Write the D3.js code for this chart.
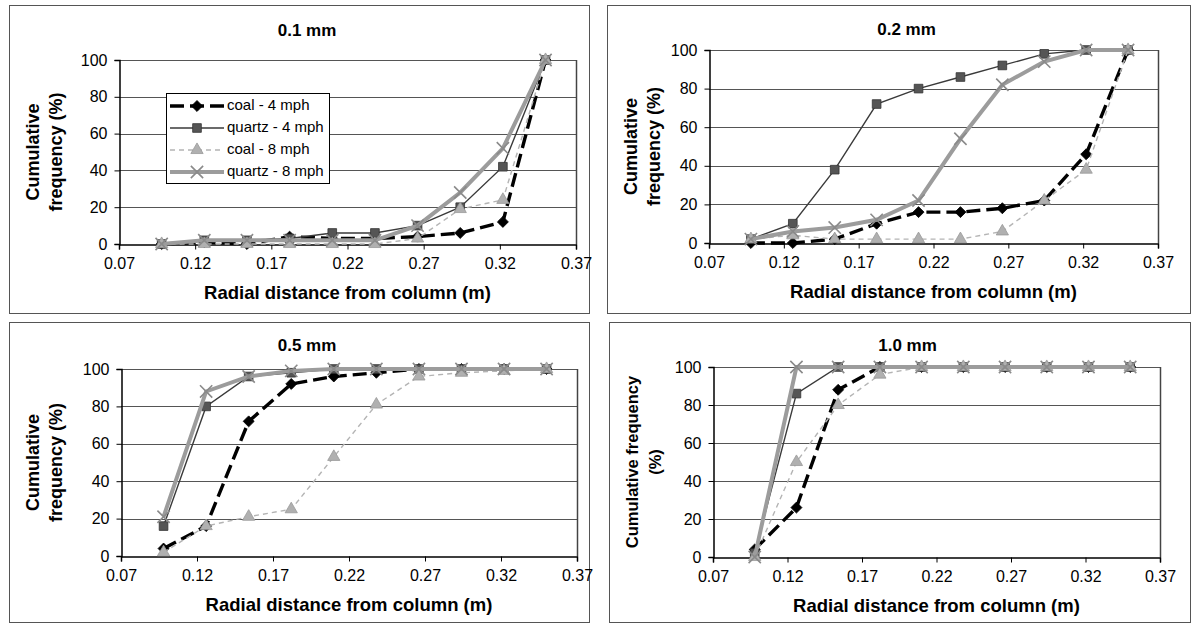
<!DOCTYPE html>
<html>
<head>
<meta charset="utf-8">
<script src="https://cdn.jsdelivr.net/npm/d3@7"></script>
<style>
  body { margin: 0; background: #fff; }
  svg text { font-family: "Liberation Sans", Arial, sans-serif; fill: #000; }
</style>
</head>
<body>
<svg id="chart" width="1192" height="627"></svg>
<script>
// radial positions (m) shared by every panel
const distances = [0.098, 0.126, 0.154, 0.182, 0.210, 0.238, 0.266, 0.294, 0.322, 0.350];
const xTicks = [0.07, 0.12, 0.17, 0.22, 0.27, 0.32, 0.37];
const yTicks = [0, 20, 40, 60, 80, 100];
const seriesNames = ["coal - 4 mph", "quartz - 4 mph", "coal - 8 mph", "quartz - 8 mph"];
const panelTitles = ["0.1 mm", "0.2 mm", "0.5 mm", "1.0 mm"];

// 0.1 mm
const coal4_01   = [0, 1, 0, 4, 3, 3, 4, 6, 12, 100];
const quartz4_01 = [0, 2, 2, 3, 6, 6, 10, 20, 42, 100];
const coal8_01   = [0, 0, 0, 0, 0, 0, 3, 19, 24, 100];
const quartz8_01 = [0, 2, 2, 2, 2, 2, 10, 28, 52, 100];
// 0.2 mm
const coal4_02   = [0, 0, 2, 10, 16, 16, 18, 22, 46, 100];
const quartz4_02 = [2, 10, 38, 72, 80, 86, 92, 98, 100, 100];
const coal8_02   = [2, 4, 2, 2, 2, 2, 6, 22, 38, 100];
const quartz8_02 = [2, 6, 8, 12, 22, 54, 82, 94, 100, 100];
// 0.5 mm
const coal4_05   = [4, 16, 72, 92, 96, 98, 100, 100, 100, 100];
const quartz4_05 = [16, 80, 96, 98, 100, 100, 100, 100, 100, 100];
const coal8_05   = [2, 16, 21, 25, 53, 81, 96, 98, 99, 100];
const quartz8_05 = [21, 88, 96, 99, 100, 100, 100, 100, 100, 100];
// 1.0 mm
const coal4_10   = [4, 26, 88, 100, 100, 100, 100, 100, 100, 100];
const quartz4_10 = [2, 86, 100, 100, 100, 100, 100, 100, 100, 100];
const coal8_10   = [0, 50, 80, 96, 100, 100, 100, 100, 100, 100];
const quartz8_10 = [0, 100, 100, 100, 100, 100, 100, 100, 100, 100];

// coal-4 uses a square turned 45deg, which gives Excel's wide diamond
const styles = [
  { stroke: "#000", width: 3.4, dash: "14,6", marker: d3.symbolSquare, rot: 45, size: 60, fill: "#000", mstroke: "#000" },
  { stroke: "#3a3a3a", width: 1.4, dash: null, marker: d3.symbolSquare, rot: 0, size: 75, fill: "#555", mstroke: "#333" },
  { stroke: "#b4b4b4", width: 1.4, dash: "5,4", marker: d3.symbolTriangle, rot: 0, size: 65, fill: "#b0b0b0", mstroke: "#999" },
  { stroke: "#9c9c9c", width: 4, dash: null, marker: d3.symbolX, rot: 0, size: 100, fill: "none", mstroke: "#8a8a8a" }
];

const panels = [
  { title: panelTitles[0], series: [coal4_01, quartz4_01, coal8_01, quartz8_01],
    box: [9, 5, 589, 313], plot: [119, 60, 576, 244], titleY: 36, ylab: ["Cumulative", "frequency (%)"], ysize: 18, legend: true },
  { title: panelTitles[1], series: [coal4_02, quartz4_02, coal8_02, quartz8_02],
    box: [607, 5, 1190, 313], plot: [709, 50, 1158, 243], titleY: 35, ylab: ["Cumulative", "frequency (%)"], ysize: 18 },
  { title: panelTitles[2], series: [coal4_05, quartz4_05, coal8_05, quartz8_05],
    box: [9, 322, 589, 622], plot: [121, 369, 577, 556], titleY: 351, ylab: ["Cumulative", "frequency (%)"], ysize: 18 },
  { title: panelTitles[3], series: [coal4_10, quartz4_10, coal8_10, quartz8_10],
    box: [609, 322, 1190, 622], plot: [713, 367, 1160, 557], titleY: 351, ylab: ["Cumulative frequency", "(%)"], ysize: 16.5 }
];

const svg = d3.select("#chart");

panels.forEach(p => {
  const [bx0, by0, bx1, by1] = p.box;
  const [px0, py0, px1, py1] = p.plot;
  const g = svg.append("g");

  g.append("rect")
    .attr("x", bx0 + 0.5).attr("y", by0 + 0.5)
    .attr("width", bx1 - bx0).attr("height", by1 - by0)
    .attr("fill", "#fff").attr("stroke", "#555").attr("stroke-width", 1);

  const x = d3.scaleLinear().domain([0.07, 0.37]).range([px0, px1]);
  const y = d3.scaleLinear().domain([0, 100]).range([py1, py0]);

  // gridlines
  g.selectAll(".grid")
    .data(yTicks.filter(v => v > 0))
    .enter().append("line")
    .attr("x1", px0).attr("x2", px1)
    .attr("y1", d => Math.round(y(d)) + 0.5).attr("y2", d => Math.round(y(d)) + 0.5)
    .attr("stroke", "#555").attr("stroke-width", 1);

  // right border of plot area
  g.append("line")
    .attr("x1", px1 + 0.5).attr("x2", px1 + 0.5)
    .attr("y1", py0).attr("y2", py1)
    .attr("stroke", "#444").attr("stroke-width", 1.5);

  // axes
  const xAxis = g.append("g")
    .attr("transform", `translate(0,${Math.round(y(0)) + 0.5})`)
    .call(d3.axisBottom(x).tickValues(xTicks).tickFormat(d3.format(".2f")).tickSize(5).tickPadding(8));
  xAxis.selectAll("text").style("font-size", "16px");
  xAxis.select(".domain").attr("stroke-width", 1.5);

  const yAxis = g.append("g")
    .attr("transform", `translate(${px0 + 0.5},0)`)
    .call(d3.axisLeft(y).tickValues(yTicks).tickSize(5).tickPadding(7));
  yAxis.selectAll("text").style("font-size", "16px");
  yAxis.select(".domain").attr("stroke-width", 1.5);

  // title, centred on the panel box
  g.append("text")
    .attr("x", (bx0 + bx1) / 2 + 8).attr("y", p.titleY)
    .attr("text-anchor", "middle")
    .style("font-size", "17px").style("font-weight", "bold")
    .text(p.title);

  // axis titles
  g.append("text")
    .attr("x", (px0 + px1) / 2).attr("y", py1 + 55)
    .attr("text-anchor", "middle")
    .style("font-size", "18.5px").style("font-weight", "bold")
    .text("Radial distance from column (m)");

  const yc = (py0 + py1) / 2;
  p.ylab.forEach((t, i) => {
    g.append("text")
      .attr("transform", `translate(${bx0 + 25 + i * 23},${yc}) rotate(-90)`)
      .attr("text-anchor", "middle")
      .attr("dominant-baseline", "middle")
      .style("font-size", p.ysize + "px").style("font-weight", "bold")
      .text(t);
  });

  // series
  const line = d3.line().x((d, i) => x(distances[i])).y(d => y(d));
  p.series.forEach((vals, si) => {
    const s = styles[si];
    g.append("path")
      .datum(vals)
      .attr("d", line)
      .attr("fill", "none")
      .attr("stroke", s.stroke)
      .attr("stroke-width", s.width)
      .attr("stroke-dasharray", s.dash);
    g.selectAll(".m" + si)
      .data(vals)
      .enter().append("path")
      .attr("transform", (d, i) => `translate(${x(distances[i])},${y(d)}) rotate(${s.rot})`)
      .attr("d", d3.symbol().type(s.marker).size(s.size))
      .attr("fill", s.fill)
      .attr("stroke", s.mstroke)
      .attr("stroke-width", si === 3 ? 1.6 : 0.8);
  });

  if (p.legend) {
    const lx = 166, ly = 93, lw = 163, lh = 90;
    const lg = g.append("g");
    lg.append("rect")
      .attr("x", lx + 0.5).attr("y", ly + 0.5).attr("width", lw).attr("height", lh)
      .attr("fill", "#fff").attr("stroke", "#000").attr("stroke-width", 1);
    seriesNames.forEach((name, i) => {
      const s = styles[i];
      const cy = ly + 13 + i * 22;
      lg.append("line")
        .attr("x1", lx + 4).attr("x2", lx + 58)
        .attr("y1", cy).attr("y2", cy)
        .attr("stroke", s.stroke).attr("stroke-width", s.width)
        .attr("stroke-dasharray", s.dash);
      lg.append("path")
        .attr("transform", `translate(${lx + 31},${cy}) rotate(${s.rot})`)
        .attr("d", d3.symbol().type(s.marker).size(s.size))
        .attr("fill", s.fill).attr("stroke", s.mstroke)
        .attr("stroke-width", i === 3 ? 1.6 : 0.8);
      lg.append("text")
        .attr("x", lx + 61).attr("y", cy)
        .attr("dominant-baseline", "middle")
        .style("font-size", "15px")
        .text(name);
    });
  }
});
</script>
</body>
</html>
